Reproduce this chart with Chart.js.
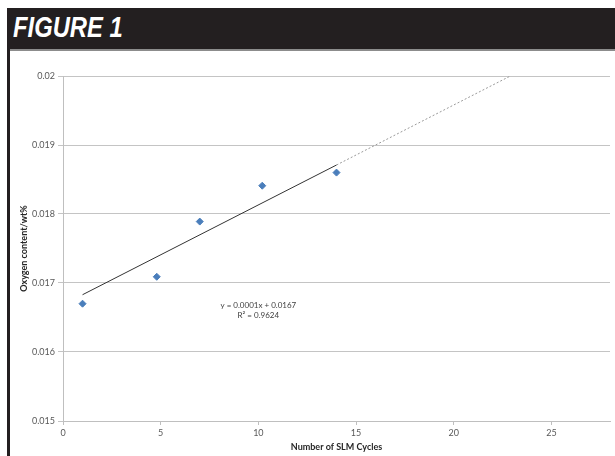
<!DOCTYPE html>
<html>
<head>
<meta charset="utf-8">
<script src="https://cdn.jsdelivr.net/npm/chart.js@4/dist/chart.umd.min.js"></script>
<style>
html, body { margin: 0; padding: 0; background: #fff; }
#wrap { position: relative; width: 615px; height: 456px; overflow: hidden; }
#bar { position: absolute; left: 7px; top: 8px; width: 608px; height: 41px; background: #231f20; border-bottom: 2px solid #8c8c8c; }
#bar span { position: absolute; left: 6px; top: 3px; color: #fff; font: italic bold 29px "Liberation Sans", sans-serif; transform: scaleX(0.82); transform-origin: left top; }
#edge { position: absolute; left: 7px; top: 49px; width: 3px; height: 407px; background: #231f20; }
#fig { position: absolute; left: 0; top: 0; }
</style>
</head>
<body>
<div id="wrap">
  <div id="bar"><span>FIGURE 1</span></div>
  <div id="edge"></div>
  <canvas id="fig" width="615" height="456"></canvas>
</div>
<script>
// measured points
var cycles = [1, 4.8, 7, 10.2, 14];
var oxygen = [0.0167, 0.01709, 0.01789, 0.01841, 0.0186];

// linear trend line (solid part) and its forecast (dotted)
var fitX = [1, 14];
var fitY = [0.01683, 0.01871];
var extX = [14, 22.9];
var extY = [0.01871, 0.02];

var fitText = ["y = 0.0001x + 0.0167", "R\u00B2 = 0.9624"];

function pts(xs, ys) {
  var out = [];
  for (var i = 0; i < xs.length; i++) out.push({x: xs[i], y: ys[i]});
  return out;
}

var tickFont = {family: "Lato, 'Open Sans', sans-serif", size: 9};
var titleFont = {family: "Lato, 'Open Sans', sans-serif", size: 9, weight: "bold"};

// equation label written next to the trend line
var eqLabel = {
  id: "eqLabel",
  afterDatasetsDraw: function(chart) {
    var ctx = chart.ctx;
    var x = chart.scales.x.getPixelForValue(10);
    var y = chart.scales.y.getPixelForValue(0.01667);
    ctx.save();
    ctx.fillStyle = "#404040";
    ctx.font = "8px Lato, 'Open Sans', sans-serif";
    ctx.textAlign = "center";
    ctx.textBaseline = "middle";
    ctx.fillText(fitText[0], x, y);
    ctx.fillText(fitText[1], x, y + 10);
    ctx.restore();
  }
};

var OxyChart = new Chart(document.getElementById("fig").getContext("2d"), {
  type: "scatter",
  data: {
    datasets: [{
      label: "Oxygen",
      data: pts(cycles, oxygen),
      pointStyle: "rectRot",
      pointRadius: 3.5,
      pointBackgroundColor: "#4a7ebb",
      pointBorderColor: "#4a7ebb",
      showLine: false
    }, {
      label: "Fit",
      data: pts(fitX, fitY),
      showLine: true,
      borderColor: "#333333",
      borderWidth: 1,
      pointRadius: 0
    }, {
      label: "Forecast",
      data: pts(extX, extY),
      showLine: true,
      borderColor: "#9a9a9a",
      borderWidth: 1,
      borderDash: [2, 2],
      pointRadius: 0
    }]
  },
  options: {
    responsive: false,
    animation: false,
    layout: {padding: {top: 76, right: 0, bottom: 4, left: 16}},
    plugins: {legend: {display: false}, tooltip: {enabled: false}},
    scales: {
      x: {
        type: "linear",
        min: 0,
        max: 28,
        afterFit: function(s) { s.height = 31; },
        ticks: {stepSize: 5, includeBounds: false, color: "#595959", font: tickFont, padding: 3},
        grid: {drawOnChartArea: false, drawTicks: true, tickLength: 4, color: "#bfbfbf"},
        border: {color: "#bfbfbf"},
        title: {display: true, text: "Number of SLM Cycles", color: "#262626", font: titleFont, padding: 0}
      },
      y: {
        min: 0.015,
        max: 0.02,
        afterFit: function(s) { s.width = 47; },
        ticks: {
          stepSize: 0.001, color: "#595959", font: tickFont, padding: 3,
          callback: function(v) { return String(+v.toFixed(3)); }
        },
        grid: {color: "#c4c4c4", tickLength: 5},
        border: {color: "#bfbfbf"},
        title: {display: true, text: "Oxygen content/wt%", color: "#262626", font: titleFont, padding: 3}
      }
    }
  },
  plugins: [eqLabel]
});
</script>
</body>
</html>
